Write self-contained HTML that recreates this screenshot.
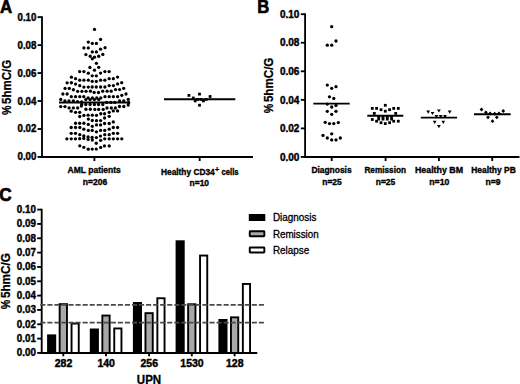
<!DOCTYPE html>
<html><head><meta charset="utf-8"><style>
html,body{margin:0;padding:0;background:#fff;}
svg{display:block;}
</style></head><body>
<svg width="520" height="384" viewBox="0 0 520 384" font-family='"Liberation Sans", sans-serif'>
<rect width="520" height="384" fill="#fff"/>
<text x="-0.1" y="12.5" font-size="17.5" font-weight="bold" text-anchor="start" textLength="12.2" lengthAdjust="spacingAndGlyphs" stroke="#000" stroke-width="0.65" >A</text>
<line x1="42.0" y1="16.349999999999998" x2="42.0" y2="157.75" stroke="#000" stroke-width="1.85" />
<line x1="41.2" y1="156.95" x2="253" y2="156.95" stroke="#000" stroke-width="1.85" />
<line x1="37.6" y1="156.95" x2="42.0" y2="156.95" stroke="#000" stroke-width="1.85" />
<text x="36.4" y="160.45" font-size="10.4" font-weight="bold" text-anchor="end" textLength="18.9" lengthAdjust="spacingAndGlyphs" stroke="#000" stroke-width="0.42" >0.00</text>
<line x1="37.6" y1="128.98999999999998" x2="42.0" y2="128.98999999999998" stroke="#000" stroke-width="1.85" />
<text x="36.4" y="132.48999999999998" font-size="10.4" font-weight="bold" text-anchor="end" textLength="18.9" lengthAdjust="spacingAndGlyphs" stroke="#000" stroke-width="0.42" >0.02</text>
<line x1="37.6" y1="101.03" x2="42.0" y2="101.03" stroke="#000" stroke-width="1.85" />
<text x="36.4" y="104.53" font-size="10.4" font-weight="bold" text-anchor="end" textLength="18.9" lengthAdjust="spacingAndGlyphs" stroke="#000" stroke-width="0.42" >0.04</text>
<line x1="37.6" y1="73.07" x2="42.0" y2="73.07" stroke="#000" stroke-width="1.85" />
<text x="36.4" y="76.57" font-size="10.4" font-weight="bold" text-anchor="end" textLength="18.9" lengthAdjust="spacingAndGlyphs" stroke="#000" stroke-width="0.42" >0.06</text>
<line x1="37.6" y1="45.11" x2="42.0" y2="45.11" stroke="#000" stroke-width="1.85" />
<text x="36.4" y="48.61" font-size="10.4" font-weight="bold" text-anchor="end" textLength="18.9" lengthAdjust="spacingAndGlyphs" stroke="#000" stroke-width="0.42" >0.08</text>
<line x1="37.6" y1="17.150000000000006" x2="42.0" y2="17.150000000000006" stroke="#000" stroke-width="1.85" />
<text x="36.4" y="20.650000000000006" font-size="10.4" font-weight="bold" text-anchor="end" textLength="18.9" lengthAdjust="spacingAndGlyphs" stroke="#000" stroke-width="0.42" >0.10</text>
<line x1="94.4" y1="156.95" x2="94.4" y2="161" stroke="#000" stroke-width="1.85" />
<line x1="199.7" y1="156.95" x2="199.7" y2="161" stroke="#000" stroke-width="1.85" />
<g transform="translate(10.6,114.6) rotate(-90)"><text x="-0.4" y="0" font-size="12" font-weight="bold" textLength="9.5" lengthAdjust="spacingAndGlyphs" stroke="#000" stroke-width="0.25">%</text><text x="10.7" y="0" font-size="12" font-weight="bold" textLength="44.0" lengthAdjust="spacingAndGlyphs" stroke="#000" stroke-width="0.25">5hmC/G</text></g>
<text x="94.2" y="172.9" font-size="8.7" font-weight="bold" text-anchor="middle" textLength="53.3" lengthAdjust="spacingAndGlyphs" stroke="#000" stroke-width="0.35" >AML patients</text>
<text x="95" y="184.9" font-size="8.7" font-weight="bold" text-anchor="middle" textLength="24.5" lengthAdjust="spacingAndGlyphs" stroke="#000" stroke-width="0.35" >n=206</text>
<text x="161" y="174.7" font-size="8.7" font-weight="bold" text-anchor="start" textLength="53.7" lengthAdjust="spacingAndGlyphs" stroke="#000" stroke-width="0.35" >Healthy CD34</text>
<text x="215.1" y="172.2" font-size="7.6" font-weight="bold" text-anchor="start" textLength="4.2" lengthAdjust="spacingAndGlyphs" stroke="#000" stroke-width="0.3" >+</text>
<text x="221.4" y="174.7" font-size="8.7" font-weight="bold" text-anchor="start" textLength="17.2" lengthAdjust="spacingAndGlyphs" stroke="#000" stroke-width="0.35" >cells</text>
<text x="199.3" y="186" font-size="8.7" font-weight="bold" text-anchor="middle" textLength="19.4" lengthAdjust="spacingAndGlyphs" stroke="#000" stroke-width="0.35" >n=10</text>
<circle cx="94.5" cy="29.4" r="1.65"/>
<circle cx="100.6" cy="39.4" r="1.65"/>
<circle cx="88.3" cy="42.1" r="1.65"/>
<circle cx="92.3" cy="43.4" r="1.65"/>
<circle cx="96.4" cy="43.4" r="1.65"/>
<circle cx="83.9" cy="47.9" r="1.65"/>
<circle cx="88.3" cy="47.9" r="1.65"/>
<circle cx="100.55" cy="49.2" r="1.65"/>
<circle cx="105.05" cy="47.7" r="1.65"/>
<circle cx="92.3" cy="51.9" r="1.65"/>
<circle cx="96.4" cy="51.9" r="1.65"/>
<circle cx="85.9" cy="54.53" r="1.65"/>
<circle cx="102.83" cy="54.4" r="1.65"/>
<circle cx="90.2" cy="56.25" r="1.65"/>
<circle cx="94.5" cy="57.2" r="1.65"/>
<circle cx="92.3" cy="58.8" r="1.65"/>
<circle cx="98.7" cy="56.25" r="1.65"/>
<circle cx="96.4" cy="63.3" r="1.65"/>
<circle cx="89.9" cy="67.4" r="1.65"/>
<circle cx="98.7" cy="67.3" r="1.65"/>
<circle cx="94.5" cy="70.2" r="1.65"/>
<circle cx="79.65" cy="71.55" r="1.65"/>
<circle cx="83.9" cy="71.55" r="1.65"/>
<circle cx="88.3" cy="73.15" r="1.65"/>
<circle cx="100.55" cy="73.1" r="1.65"/>
<circle cx="104.9" cy="71.55" r="1.65"/>
<circle cx="109.15" cy="71.55" r="1.65"/>
<circle cx="92.23" cy="75.8" r="1.65"/>
<circle cx="96.33" cy="75.8" r="1.65"/>
<circle cx="71.4" cy="77.13" r="1.65"/>
<circle cx="75.57" cy="78.68" r="1.65"/>
<circle cx="79.7" cy="80.17" r="1.65"/>
<circle cx="83.9" cy="80.17" r="1.65"/>
<circle cx="88.3" cy="80.17" r="1.65"/>
<circle cx="92.23" cy="81.33" r="1.65"/>
<circle cx="96.33" cy="81.38" r="1.65"/>
<circle cx="100.6" cy="80.15" r="1.65"/>
<circle cx="104.85" cy="80.15" r="1.65"/>
<circle cx="109.17" cy="78.63" r="1.65"/>
<circle cx="113.33" cy="78.63" r="1.65"/>
<circle cx="117.57" cy="77.1" r="1.65"/>
<circle cx="71.4" cy="82.77" r="1.65"/>
<circle cx="75.57" cy="84.07" r="1.65"/>
<circle cx="117.6" cy="83.9" r="1.65"/>
<circle cx="67.15" cy="82.8" r="1.65"/>
<circle cx="79.75" cy="85.65" r="1.65"/>
<circle cx="83.9" cy="87.05" r="1.65"/>
<circle cx="88.3" cy="87.05" r="1.65"/>
<circle cx="92.2" cy="87.0" r="1.65"/>
<circle cx="65.05" cy="88.4" r="1.65"/>
<circle cx="69.25" cy="88.4" r="1.65"/>
<circle cx="73.4" cy="89.75" r="1.65"/>
<circle cx="77.65" cy="91.35" r="1.65"/>
<circle cx="81.9" cy="91.35" r="1.65"/>
<circle cx="86.05" cy="91.35" r="1.65"/>
<circle cx="90.45" cy="91.2" r="1.65"/>
<circle cx="94.15" cy="92.4" r="1.65"/>
<circle cx="62.9" cy="94.0" r="1.65"/>
<circle cx="67.15" cy="94.0" r="1.65"/>
<circle cx="71.3" cy="96.65" r="1.65"/>
<circle cx="75.55" cy="96.65" r="1.65"/>
<circle cx="79.8" cy="96.65" r="1.65"/>
<circle cx="83.8" cy="96.65" r="1.65"/>
<circle cx="60.75" cy="99.4" r="1.65"/>
<circle cx="64.95" cy="101.0" r="1.65"/>
<circle cx="69.0" cy="101.0" r="1.65"/>
<circle cx="73.4" cy="101.0" r="1.65"/>
<circle cx="121.7" cy="82.7" r="1.65"/>
<circle cx="96.25" cy="87" r="1.65"/>
<circle cx="100.6" cy="87" r="1.65"/>
<circle cx="104.9" cy="87" r="1.65"/>
<circle cx="109.2" cy="85.6" r="1.65"/>
<circle cx="113.4" cy="85.6" r="1.65"/>
<circle cx="115.5" cy="89.6" r="1.65"/>
<circle cx="119.6" cy="89.6" r="1.65"/>
<circle cx="123.7" cy="88.3" r="1.65"/>
<circle cx="98.5" cy="92.5" r="1.65"/>
<circle cx="102.7" cy="91.2" r="1.65"/>
<circle cx="107.1" cy="91.2" r="1.65"/>
<circle cx="111.2" cy="91.2" r="1.65"/>
<circle cx="105.0" cy="96.65" r="1.65"/>
<circle cx="109.2" cy="96.65" r="1.65"/>
<circle cx="113.35" cy="96.65" r="1.65"/>
<circle cx="117.6" cy="96.65" r="1.65"/>
<circle cx="121.8" cy="95.35" r="1.65"/>
<circle cx="126" cy="94" r="1.65"/>
<circle cx="128.25" cy="99.4" r="1.65"/>
<circle cx="119.55" cy="101.0" r="1.65"/>
<circle cx="123.75" cy="101.0" r="1.65"/>
<circle cx="60.75" cy="106.6" r="1.65"/>
<circle cx="64.95" cy="106.6" r="1.65"/>
<circle cx="69.1" cy="107.95" r="1.65"/>
<circle cx="73.4" cy="107.95" r="1.65"/>
<circle cx="77.65" cy="107.95" r="1.65"/>
<circle cx="81.38" cy="106.12" r="1.65"/>
<circle cx="85.95" cy="109.25" r="1.65"/>
<circle cx="90.3" cy="109.25" r="1.65"/>
<circle cx="94.85" cy="109.4" r="1.65"/>
<circle cx="98.7" cy="109.4" r="1.65"/>
<circle cx="71.2" cy="111.15" r="1.65"/>
<circle cx="75.55" cy="112.3" r="1.65"/>
<circle cx="79.7" cy="112.3" r="1.65"/>
<circle cx="79.73" cy="116.5" r="1.65"/>
<circle cx="83.88" cy="115.38" r="1.65"/>
<circle cx="88.1" cy="115.2" r="1.65"/>
<circle cx="92.3" cy="115.2" r="1.65"/>
<circle cx="96.5" cy="115.3" r="1.65"/>
<circle cx="88.37" cy="119.03" r="1.65"/>
<circle cx="128.7" cy="102.7" r="1.65"/>
<circle cx="128.2" cy="105.1" r="1.65"/>
<circle cx="119.5" cy="106.5" r="1.65"/>
<circle cx="123.8" cy="106.5" r="1.65"/>
<circle cx="107" cy="108" r="1.65"/>
<circle cx="111.3" cy="108" r="1.65"/>
<circle cx="115.4" cy="108" r="1.65"/>
<circle cx="103.2" cy="109.4" r="1.65"/>
<circle cx="109.2" cy="112.3" r="1.65"/>
<circle cx="113.3" cy="110.9" r="1.65"/>
<circle cx="117.6" cy="110.9" r="1.65"/>
<circle cx="100.8" cy="113.75" r="1.65"/>
<circle cx="104.6" cy="113.75" r="1.65"/>
<circle cx="104.6" cy="118.0" r="1.65"/>
<circle cx="109.2" cy="116.35" r="1.65"/>
<circle cx="92.3" cy="120.5" r="1.65"/>
<circle cx="75.55" cy="123.25" r="1.65"/>
<circle cx="79.7" cy="123.25" r="1.65"/>
<circle cx="83.9" cy="123.25" r="1.65"/>
<circle cx="88.3" cy="124.45" r="1.65"/>
<circle cx="96.5" cy="120.7" r="1.65"/>
<circle cx="92.3" cy="126.3" r="1.65"/>
<circle cx="96.5" cy="124.9" r="1.65"/>
<circle cx="71.2" cy="127.5" r="1.65"/>
<circle cx="75.5" cy="127.5" r="1.65"/>
<circle cx="79.8" cy="127.5" r="1.65"/>
<circle cx="83.8" cy="129.2" r="1.65"/>
<circle cx="88.3" cy="130.4" r="1.65"/>
<circle cx="92.2" cy="130.45" r="1.65"/>
<circle cx="96.42" cy="131.83" r="1.65"/>
<circle cx="71.2" cy="133.3" r="1.65"/>
<circle cx="75.5" cy="133.3" r="1.65"/>
<circle cx="79.8" cy="134.7" r="1.65"/>
<circle cx="83.8" cy="136.0" r="1.65"/>
<circle cx="66.9" cy="138.8" r="1.65"/>
<circle cx="71.25" cy="138.8" r="1.65"/>
<circle cx="75.45" cy="138.8" r="1.65"/>
<circle cx="79.65" cy="138.7" r="1.65"/>
<circle cx="92.13" cy="137.4" r="1.65"/>
<circle cx="96.39" cy="137.6" r="1.65"/>
<circle cx="100.6" cy="120.6" r="1.65"/>
<circle cx="113.3" cy="121.9" r="1.65"/>
<circle cx="100.6" cy="124.9" r="1.65"/>
<circle cx="104.6" cy="123.5" r="1.65"/>
<circle cx="109.2" cy="123.5" r="1.65"/>
<circle cx="113.3" cy="127.5" r="1.65"/>
<circle cx="117.6" cy="127.5" r="1.65"/>
<circle cx="109.2" cy="129.2" r="1.65"/>
<circle cx="104.75" cy="130.45" r="1.65"/>
<circle cx="100.6" cy="130.45" r="1.65"/>
<circle cx="113.35" cy="133.35" r="1.65"/>
<circle cx="117.6" cy="133.35" r="1.65"/>
<circle cx="109.2" cy="134.65" r="1.65"/>
<circle cx="104.75" cy="134.65" r="1.65"/>
<circle cx="100.47" cy="136.08" r="1.65"/>
<circle cx="104.75" cy="138.85" r="1.65"/>
<circle cx="109.2" cy="138.85" r="1.65"/>
<circle cx="113.35" cy="138.85" r="1.65"/>
<circle cx="117.6" cy="138.85" r="1.65"/>
<circle cx="121.8" cy="138.85" r="1.65"/>
<circle cx="83.8" cy="138.4" r="1.65"/>
<circle cx="92.3" cy="140.1" r="1.65"/>
<circle cx="100.65" cy="140.35" r="1.65"/>
<circle cx="96.28" cy="143.25" r="1.65"/>
<circle cx="79.8" cy="145.8" r="1.65"/>
<circle cx="83.8" cy="147.3" r="1.65"/>
<circle cx="88.2" cy="149.2" r="1.65"/>
<circle cx="92.2" cy="149.1" r="1.65"/>
<circle cx="96.28" cy="149.1" r="1.65"/>
<circle cx="100.65" cy="147.4" r="1.65"/>
<circle cx="104.45" cy="145.95" r="1.65"/>
<circle cx="109.2" cy="145.9" r="1.65"/>
<circle cx="88.1" cy="97.9" r="1.65"/>
<circle cx="92.4" cy="97.9" r="1.65"/>
<circle cx="96.7" cy="97.9" r="1.65"/>
<circle cx="100.8" cy="97.9" r="1.65"/>
<circle cx="85.8" cy="99.6" r="1.65"/>
<circle cx="90.1" cy="99.6" r="1.65"/>
<circle cx="94.4" cy="99.6" r="1.65"/>
<circle cx="98.75" cy="99.6" r="1.65"/>
<circle cx="81.7" cy="104.5" r="1.65"/>
<circle cx="85.8" cy="104.5" r="1.65"/>
<circle cx="90.1" cy="104.5" r="1.65"/>
<circle cx="94.4" cy="104.5" r="1.65"/>
<circle cx="98.5" cy="104.5" r="1.65"/>
<circle cx="102.8" cy="104.5" r="1.65"/>
<circle cx="106.7" cy="102.4" r="1.65"/>
<circle cx="110.8" cy="102.4" r="1.65"/>
<circle cx="114.8" cy="102.4" r="1.65"/>
<circle cx="88.1" cy="136.9" r="1.65"/>
<circle cx="88.1" cy="139.4" r="1.65"/>
<circle cx="77.5" cy="101.6" r="1.65"/>
<circle cx="81.7" cy="101.9" r="1.65"/>
<line x1="59" y1="102.45" x2="130" y2="102.45" stroke="#000" stroke-width="2.1" />
<rect x="187.5" y="94.0" width="2.8" height="2.8"/>
<rect x="198.1" y="92.69999999999999" width="2.8" height="2.8"/>
<rect x="208.7" y="95.1" width="2.8" height="2.8"/>
<rect x="191.9" y="96.6" width="2.8" height="2.8"/>
<rect x="193.79999999999998" y="99.5" width="2.8" height="2.8"/>
<rect x="196.2" y="98.0" width="2.8" height="2.8"/>
<rect x="199.6" y="98.0" width="2.8" height="2.8"/>
<rect x="202.0" y="99.5" width="2.8" height="2.8"/>
<rect x="204.85" y="98.0" width="2.8" height="2.8"/>
<rect x="198.1" y="103.8" width="2.8" height="2.8"/>
<line x1="164" y1="99.3" x2="235.3" y2="99.3" stroke="#000" stroke-width="2.1" />
<text x="257.2" y="12.5" font-size="17.5" font-weight="bold" text-anchor="start" textLength="12.0" lengthAdjust="spacingAndGlyphs" stroke="#000" stroke-width="0.65" >B</text>
<line x1="305.1" y1="13.399999999999999" x2="305.1" y2="157.75" stroke="#000" stroke-width="1.85" />
<line x1="304.3" y1="156.95" x2="519.5" y2="156.95" stroke="#000" stroke-width="1.85" />
<line x1="300.8" y1="156.95" x2="305.1" y2="156.95" stroke="#000" stroke-width="1.85" />
<text x="299.4" y="160.64999999999998" font-size="10.4" font-weight="bold" text-anchor="end" textLength="19.5" lengthAdjust="spacingAndGlyphs" stroke="#000" stroke-width="0.42" >0.00</text>
<line x1="300.8" y1="128.39999999999998" x2="305.1" y2="128.39999999999998" stroke="#000" stroke-width="1.85" />
<text x="299.4" y="132.09999999999997" font-size="10.4" font-weight="bold" text-anchor="end" textLength="19.5" lengthAdjust="spacingAndGlyphs" stroke="#000" stroke-width="0.42" >0.02</text>
<line x1="300.8" y1="99.85" x2="305.1" y2="99.85" stroke="#000" stroke-width="1.85" />
<text x="299.4" y="103.55" font-size="10.4" font-weight="bold" text-anchor="end" textLength="19.5" lengthAdjust="spacingAndGlyphs" stroke="#000" stroke-width="0.42" >0.04</text>
<line x1="300.8" y1="71.29999999999998" x2="305.1" y2="71.29999999999998" stroke="#000" stroke-width="1.85" />
<text x="299.4" y="74.99999999999999" font-size="10.4" font-weight="bold" text-anchor="end" textLength="19.5" lengthAdjust="spacingAndGlyphs" stroke="#000" stroke-width="0.42" >0.06</text>
<line x1="300.8" y1="42.749999999999986" x2="305.1" y2="42.749999999999986" stroke="#000" stroke-width="1.85" />
<text x="299.4" y="46.44999999999999" font-size="10.4" font-weight="bold" text-anchor="end" textLength="19.5" lengthAdjust="spacingAndGlyphs" stroke="#000" stroke-width="0.42" >0.08</text>
<line x1="300.8" y1="14.199999999999989" x2="305.1" y2="14.199999999999989" stroke="#000" stroke-width="1.85" />
<text x="299.4" y="17.899999999999988" font-size="10.4" font-weight="bold" text-anchor="end" textLength="19.5" lengthAdjust="spacingAndGlyphs" stroke="#000" stroke-width="0.42" >0.10</text>
<line x1="331.7" y1="156.95" x2="331.7" y2="161" stroke="#000" stroke-width="1.85" />
<line x1="385.6" y1="156.95" x2="385.6" y2="161" stroke="#000" stroke-width="1.85" />
<line x1="438.9" y1="156.95" x2="438.9" y2="161" stroke="#000" stroke-width="1.85" />
<line x1="492.2" y1="156.95" x2="492.2" y2="161" stroke="#000" stroke-width="1.85" />
<g transform="translate(272.6,112.8) rotate(-90)"><text x="-0.4" y="0" font-size="12" font-weight="bold" textLength="9.5" lengthAdjust="spacingAndGlyphs" stroke="#000" stroke-width="0.25">%</text><text x="10.7" y="0" font-size="12" font-weight="bold" textLength="44.5" lengthAdjust="spacingAndGlyphs" stroke="#000" stroke-width="0.25">5hmC/G</text></g>
<text x="331.5" y="172.9" font-size="8.7" font-weight="bold" text-anchor="middle" textLength="40.2" lengthAdjust="spacingAndGlyphs" stroke="#000" stroke-width="0.35" >Diagnosis</text>
<text x="332" y="184.9" font-size="8.7" font-weight="bold" text-anchor="middle" textLength="19.5" lengthAdjust="spacingAndGlyphs" stroke="#000" stroke-width="0.35" >n=25</text>
<text x="385.2" y="172.9" font-size="8.7" font-weight="bold" text-anchor="middle" textLength="41.5" lengthAdjust="spacingAndGlyphs" stroke="#000" stroke-width="0.35" >Remission</text>
<text x="385.5" y="184.9" font-size="8.7" font-weight="bold" text-anchor="middle" textLength="19.5" lengthAdjust="spacingAndGlyphs" stroke="#000" stroke-width="0.35" >n=25</text>
<text x="439" y="172.9" font-size="8.7" font-weight="bold" text-anchor="middle" textLength="48.2" lengthAdjust="spacingAndGlyphs" stroke="#000" stroke-width="0.35" >Healthy BM</text>
<text x="439.3" y="184.9" font-size="8.7" font-weight="bold" text-anchor="middle" textLength="20" lengthAdjust="spacingAndGlyphs" stroke="#000" stroke-width="0.35" >n=10</text>
<text x="493.5" y="172.9" font-size="8.7" font-weight="bold" text-anchor="middle" textLength="44.6" lengthAdjust="spacingAndGlyphs" stroke="#000" stroke-width="0.35" >Healthy PB</text>
<text x="493.1" y="184.9" font-size="8.7" font-weight="bold" text-anchor="middle" textLength="15" lengthAdjust="spacingAndGlyphs" stroke="#000" stroke-width="0.35" >n=9</text>
<circle cx="331.7" cy="26.7" r="1.65"/>
<circle cx="336" cy="41" r="1.65"/>
<circle cx="327.3" cy="45.2" r="1.65"/>
<circle cx="331.7" cy="45.2" r="1.65"/>
<circle cx="327.3" cy="85.1" r="1.65"/>
<circle cx="331.7" cy="88.3" r="1.65"/>
<circle cx="336" cy="86.7" r="1.65"/>
<circle cx="329.5" cy="96.8" r="1.65"/>
<circle cx="333.8" cy="98.4" r="1.65"/>
<circle cx="327.3" cy="104.1" r="1.65"/>
<circle cx="336" cy="105.4" r="1.65"/>
<circle cx="331.7" cy="107" r="1.65"/>
<circle cx="327.3" cy="111.3" r="1.65"/>
<circle cx="336" cy="111.3" r="1.65"/>
<circle cx="331.7" cy="114.3" r="1.65"/>
<circle cx="325.2" cy="122.3" r="1.65"/>
<circle cx="329.5" cy="123.6" r="1.65"/>
<circle cx="333.8" cy="123.6" r="1.65"/>
<circle cx="338.3" cy="122.6" r="1.65"/>
<circle cx="331.7" cy="133.8" r="1.65"/>
<circle cx="323" cy="135.4" r="1.65"/>
<circle cx="327.3" cy="138" r="1.65"/>
<circle cx="331.7" cy="139.9" r="1.65"/>
<circle cx="336" cy="139.9" r="1.65"/>
<circle cx="340.3" cy="138" r="1.65"/>
<line x1="313.3" y1="103.6" x2="349.7" y2="103.6" stroke="#000" stroke-width="1.9" />
<rect x="383.90000000000003" y="103.89999999999999" width="2.8" height="2.8"/>
<rect x="370.90000000000003" y="107.0" width="2.8" height="2.8"/>
<rect x="375.20000000000005" y="107.0" width="2.8" height="2.8"/>
<rect x="379.6" y="108.3" width="2.8" height="2.8"/>
<rect x="383.90000000000003" y="109.8" width="2.8" height="2.8"/>
<rect x="388.20000000000005" y="108.3" width="2.8" height="2.8"/>
<rect x="392.3" y="107.0" width="2.8" height="2.8"/>
<rect x="396.90000000000003" y="107.0" width="2.8" height="2.8"/>
<rect x="372.90000000000003" y="112.0" width="2.8" height="2.8"/>
<rect x="394.3" y="112.0" width="2.8" height="2.8"/>
<rect x="377.3" y="117.69999999999999" width="2.8" height="2.8"/>
<rect x="381.6" y="117.69999999999999" width="2.8" height="2.8"/>
<rect x="385.90000000000003" y="117.69999999999999" width="2.8" height="2.8"/>
<rect x="390.20000000000005" y="117.69999999999999" width="2.8" height="2.8"/>
<rect x="377.3" y="115.5" width="2.8" height="2.8"/>
<rect x="381.6" y="115.5" width="2.8" height="2.8"/>
<rect x="385.90000000000003" y="115.5" width="2.8" height="2.8"/>
<rect x="390.20000000000005" y="115.5" width="2.8" height="2.8"/>
<rect x="370.90000000000003" y="118.1" width="2.8" height="2.8"/>
<rect x="375.20000000000005" y="119.8" width="2.8" height="2.8"/>
<rect x="379.6" y="121.3" width="2.8" height="2.8"/>
<rect x="383.90000000000003" y="122.19999999999999" width="2.8" height="2.8"/>
<rect x="388.20000000000005" y="121.3" width="2.8" height="2.8"/>
<rect x="392.3" y="119.8" width="2.8" height="2.8"/>
<rect x="396.90000000000003" y="119.8" width="2.8" height="2.8"/>
<line x1="367.3" y1="115.8" x2="403.3" y2="115.8" stroke="#000" stroke-width="1.9" />
<path d="M426.3,110.6h3.8l-1.9,3.2z"/>
<path d="M430.6,111.9h3.8l-1.9,3.2z"/>
<path d="M437.0,109.4h3.8l-1.9,3.2z"/>
<path d="M447.8,110.6h3.8l-1.9,3.2z"/>
<path d="M434.5,115.1h3.8l-1.9,3.2z"/>
<path d="M438.8,115.1h3.8l-1.9,3.2z"/>
<path d="M443.1,115.1h3.8l-1.9,3.2z"/>
<path d="M432.8,120.8h3.8l-1.9,3.2z"/>
<path d="M441.40000000000003,120.8h3.8l-1.9,3.2z"/>
<path d="M437.0,125.1h3.8l-1.9,3.2z"/>
<line x1="420.8" y1="117.6" x2="457.1" y2="117.6" stroke="#000" stroke-width="1.9" />
<path d="M481.5,107.6l1.9,1.9l-1.9,1.9l-1.9,-1.9z"/>
<path d="M485.9,110.39999999999999l1.9,1.9l-1.9,1.9l-1.9,-1.9z"/>
<path d="M503.25,109.1l1.9,1.9l-1.9,1.9l-1.9,-1.9z"/>
<path d="M490.1,111.6l1.9,1.9l-1.9,1.9l-1.9,-1.9z"/>
<path d="M494.7,111.85l1.9,1.9l-1.9,1.9l-1.9,-1.9z"/>
<path d="M499,111.6l1.9,1.9l-1.9,1.9l-1.9,-1.9z"/>
<path d="M488,115.39999999999999l1.9,1.9l-1.9,1.9l-1.9,-1.9z"/>
<path d="M496.8,115.39999999999999l1.9,1.9l-1.9,1.9l-1.9,-1.9z"/>
<path d="M492.5,119.3l1.9,1.9l-1.9,1.9l-1.9,-1.9z"/>
<line x1="474" y1="114.3" x2="510.7" y2="114.3" stroke="#000" stroke-width="1.9" />
<text x="-0.7" y="201.2" font-size="17.5" font-weight="bold" text-anchor="start" textLength="12.4" lengthAdjust="spacingAndGlyphs" stroke="#000" stroke-width="0.65" >C</text>
<line x1="41.7" y1="208.79999999999998" x2="41.7" y2="353.75" stroke="#000" stroke-width="1.85" />
<line x1="37.2" y1="352.95" x2="41.7" y2="352.95" stroke="#000" stroke-width="1.85" />
<text x="35.9" y="356.25" font-size="10.2" font-weight="bold" text-anchor="end" textLength="19.1" lengthAdjust="spacingAndGlyphs" stroke="#000" stroke-width="0.42" >0.00</text>
<line x1="37.2" y1="338.615" x2="41.7" y2="338.615" stroke="#000" stroke-width="1.85" />
<text x="35.9" y="341.915" font-size="10.2" font-weight="bold" text-anchor="end" textLength="19.1" lengthAdjust="spacingAndGlyphs" stroke="#000" stroke-width="0.42" >0.01</text>
<line x1="37.2" y1="324.28" x2="41.7" y2="324.28" stroke="#000" stroke-width="1.85" />
<text x="35.9" y="327.58" font-size="10.2" font-weight="bold" text-anchor="end" textLength="19.1" lengthAdjust="spacingAndGlyphs" stroke="#000" stroke-width="0.42" >0.02</text>
<line x1="37.2" y1="309.945" x2="41.7" y2="309.945" stroke="#000" stroke-width="1.85" />
<text x="35.9" y="313.245" font-size="10.2" font-weight="bold" text-anchor="end" textLength="19.1" lengthAdjust="spacingAndGlyphs" stroke="#000" stroke-width="0.42" >0.03</text>
<line x1="37.2" y1="295.61" x2="41.7" y2="295.61" stroke="#000" stroke-width="1.85" />
<text x="35.9" y="298.91" font-size="10.2" font-weight="bold" text-anchor="end" textLength="19.1" lengthAdjust="spacingAndGlyphs" stroke="#000" stroke-width="0.42" >0.04</text>
<line x1="37.2" y1="281.275" x2="41.7" y2="281.275" stroke="#000" stroke-width="1.85" />
<text x="35.9" y="284.575" font-size="10.2" font-weight="bold" text-anchor="end" textLength="19.1" lengthAdjust="spacingAndGlyphs" stroke="#000" stroke-width="0.42" >0.05</text>
<line x1="37.2" y1="266.94" x2="41.7" y2="266.94" stroke="#000" stroke-width="1.85" />
<text x="35.9" y="270.24" font-size="10.2" font-weight="bold" text-anchor="end" textLength="19.1" lengthAdjust="spacingAndGlyphs" stroke="#000" stroke-width="0.42" >0.06</text>
<line x1="37.2" y1="252.60499999999996" x2="41.7" y2="252.60499999999996" stroke="#000" stroke-width="1.85" />
<text x="35.9" y="255.90499999999997" font-size="10.2" font-weight="bold" text-anchor="end" textLength="19.1" lengthAdjust="spacingAndGlyphs" stroke="#000" stroke-width="0.42" >0.07</text>
<line x1="37.2" y1="238.26999999999998" x2="41.7" y2="238.26999999999998" stroke="#000" stroke-width="1.85" />
<text x="35.9" y="241.57" font-size="10.2" font-weight="bold" text-anchor="end" textLength="19.1" lengthAdjust="spacingAndGlyphs" stroke="#000" stroke-width="0.42" >0.08</text>
<line x1="37.2" y1="223.935" x2="41.7" y2="223.935" stroke="#000" stroke-width="1.85" />
<text x="35.9" y="227.235" font-size="10.2" font-weight="bold" text-anchor="end" textLength="19.1" lengthAdjust="spacingAndGlyphs" stroke="#000" stroke-width="0.42" >0.09</text>
<line x1="37.2" y1="209.6" x2="41.7" y2="209.6" stroke="#000" stroke-width="1.85" />
<text x="35.9" y="212.9" font-size="10.2" font-weight="bold" text-anchor="end" textLength="19.1" lengthAdjust="spacingAndGlyphs" stroke="#000" stroke-width="0.42" >0.10</text>
<g transform="translate(10.2,308.75) rotate(-90)"><text x="-0.4" y="0" font-size="12" font-weight="bold" textLength="9.5" lengthAdjust="spacingAndGlyphs" stroke="#000" stroke-width="0.25">%</text><text x="10.7" y="0" font-size="12" font-weight="bold" textLength="44.850000000000016" lengthAdjust="spacingAndGlyphs" stroke="#000" stroke-width="0.25">5hmC/G</text></g>
<rect x="47.099999999999994" y="334.4" width="9.1" height="18.55000000000001" fill="#000"/>
<rect x="59.65" y="304.15" width="7.299999999999999" height="48.8" fill="#a8a8a8" stroke="#000" stroke-width="1.9"/>
<rect x="71.55" y="323.55" width="7.199999999999999" height="29.399999999999967" fill="#fff" stroke="#000" stroke-width="1.9"/>
<line x1="63.3" y1="352.95" x2="63.3" y2="356.3" stroke="#000" stroke-width="1.85" />
<text x="63.5" y="366.7" font-size="10.3" font-weight="bold" text-anchor="middle" textLength="17.6" lengthAdjust="spacingAndGlyphs" stroke="#000" stroke-width="0.42" >282</text>
<rect x="89.8" y="328.5" width="9.1" height="24.44999999999999" fill="#000"/>
<rect x="102.35000000000001" y="315.55" width="7.299999999999999" height="37.39999999999996" fill="#a8a8a8" stroke="#000" stroke-width="1.9"/>
<rect x="114.25" y="328.45" width="7.199999999999999" height="24.49999999999999" fill="#fff" stroke="#000" stroke-width="1.9"/>
<line x1="106.0" y1="352.95" x2="106.0" y2="356.3" stroke="#000" stroke-width="1.85" />
<text x="106.2" y="366.7" font-size="10.3" font-weight="bold" text-anchor="middle" textLength="17.6" lengthAdjust="spacingAndGlyphs" stroke="#000" stroke-width="0.42" >140</text>
<rect x="132.9" y="302" width="9.1" height="50.94999999999999" fill="#000"/>
<rect x="145.45" y="313.15" width="7.299999999999999" height="39.8" fill="#a8a8a8" stroke="#000" stroke-width="1.9"/>
<rect x="157.35" y="298.25" width="7.199999999999999" height="54.699999999999974" fill="#fff" stroke="#000" stroke-width="1.9"/>
<line x1="149.1" y1="352.95" x2="149.1" y2="356.3" stroke="#000" stroke-width="1.85" />
<text x="149.29999999999998" y="366.7" font-size="10.3" font-weight="bold" text-anchor="middle" textLength="17.6" lengthAdjust="spacingAndGlyphs" stroke="#000" stroke-width="0.42" >256</text>
<rect x="175.60000000000002" y="240.3" width="9.1" height="112.64999999999998" fill="#000"/>
<rect x="188.15" y="304.25" width="7.299999999999999" height="48.699999999999974" fill="#a8a8a8" stroke="#000" stroke-width="1.9"/>
<rect x="200.05" y="255.54999999999998" width="7.199999999999999" height="97.39999999999999" fill="#fff" stroke="#000" stroke-width="1.9"/>
<line x1="191.8" y1="352.95" x2="191.8" y2="356.3" stroke="#000" stroke-width="1.85" />
<text x="192.0" y="366.7" font-size="10.3" font-weight="bold" text-anchor="middle" textLength="23.4" lengthAdjust="spacingAndGlyphs" stroke="#000" stroke-width="0.42" >1530</text>
<rect x="218.4" y="319" width="9.1" height="33.94999999999999" fill="#000"/>
<rect x="230.95" y="317.34999999999997" width="7.299999999999999" height="35.60000000000001" fill="#a8a8a8" stroke="#000" stroke-width="1.9"/>
<rect x="242.85" y="283.95" width="7.199999999999999" height="68.99999999999999" fill="#fff" stroke="#000" stroke-width="1.9"/>
<line x1="234.6" y1="352.95" x2="234.6" y2="356.3" stroke="#000" stroke-width="1.85" />
<text x="234.79999999999998" y="366.7" font-size="10.3" font-weight="bold" text-anchor="middle" textLength="17.6" lengthAdjust="spacingAndGlyphs" stroke="#000" stroke-width="0.42" >128</text>
<line x1="40.900000000000006" y1="352.95" x2="257.3" y2="352.95" stroke="#000" stroke-width="1.85" />
<line x1="40.3" y1="304.9" x2="264" y2="304.9" stroke="#4a4a4a" stroke-width="1.8" stroke-dasharray="5.1 1.95"/>
<line x1="40.3" y1="322.7" x2="264" y2="322.7" stroke="#4a4a4a" stroke-width="1.8" stroke-dasharray="5.1 1.95"/>
<text x="149" y="383.5" font-size="12.2" font-weight="bold" text-anchor="middle" textLength="24.3" lengthAdjust="spacingAndGlyphs" stroke="#000" stroke-width="0.3" >UPN</text>
<rect x="248.8" y="214" width="16.5" height="7" fill="#000" rx="0.6"/>
<rect x="249.75" y="231.2" width="14.6" height="5.1" fill="#a8a8a8" stroke="#000" stroke-width="1.9" rx="0.5"/>
<rect x="249.75" y="247.45" width="14.6" height="5.1" fill="#fff" stroke="#000" stroke-width="1.9" rx="0.5"/>
<text x="272.9" y="221.2" font-size="10.2" font-weight="normal" text-anchor="start" textLength="43.6" lengthAdjust="spacingAndGlyphs" stroke="#000" stroke-width="0.3" >Diagnosis</text>
<text x="272.9" y="237.8" font-size="10.2" font-weight="normal" text-anchor="start" textLength="45.8" lengthAdjust="spacingAndGlyphs" stroke="#000" stroke-width="0.3" >Remission</text>
<text x="272.9" y="254.1" font-size="10.2" font-weight="normal" text-anchor="start" textLength="36.3" lengthAdjust="spacingAndGlyphs" stroke="#000" stroke-width="0.3" >Relapse</text>
</svg>
</body></html>
